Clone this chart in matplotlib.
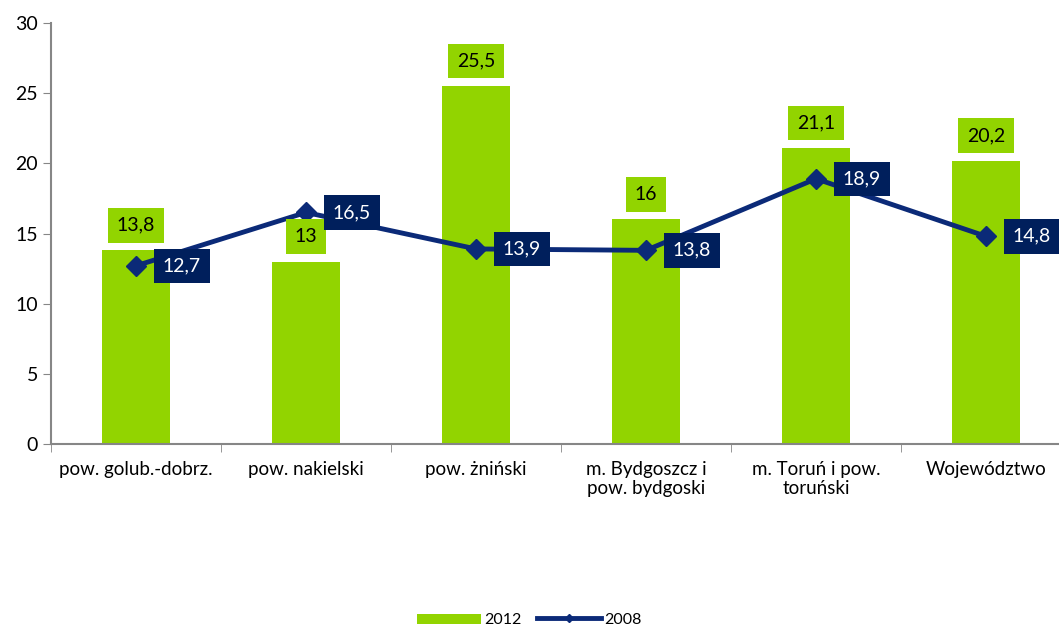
import numpy as np
import matplotlib.pyplot as plt

# data
categories = ['pow. golub.-dobrz.', 'pow. nakielski', 'pow. żniński',
              'm. Bydgoszcz i\npow. bydgoski', 'm. Toruń i pow.\ntoruński', 'Województwo']
val_2012 = [13.8, 13.0, 25.5, 16.0, 21.1, 20.2]
val_2008 = [12.7, 16.5, 13.9, 13.8, 18.9, 14.8]

green = '#92d400'
navy = '#0b2a78'
box_navy = '#001f5c'

plt.rcParams['font.family'] = ['Lato', 'DejaVu Sans']

fig = plt.figure(figsize=(10.59, 6.3), dpi=100)
ax = fig.add_axes([51/1059, 1 - 444/630, 1020/1059, 421/630])

x = np.arange(len(categories))
bars = ax.bar(x, val_2012, width=0.4, color=green, label='2012', zorder=2)
ax.plot(x, val_2008, color=navy, lw=3.5, marker='D', ms=10, label='2008', zorder=3)

def fmt(v):
    s = f'{v:.1f}'.replace('.', ',')
    return s[:-2] if s.endswith(',0') else s

for xi, v in zip(x, val_2012):
    ax.annotate(fmt(v), (xi, v), xytext=(0, 18), textcoords='offset points',
                ha='center', va='center', fontsize=14, color='black', zorder=5,
                bbox=dict(boxstyle='square,pad=0.45', fc=green, ec='none'))
for xi, v in zip(x, val_2008):
    ax.annotate(fmt(v), (xi, v), xytext=(33, 0), textcoords='offset points',
                ha='center', va='center', fontsize=14, color='white', zorder=6,
                bbox=dict(boxstyle='square,pad=0.45', fc=box_navy, ec='none'))

ax.set_xlim(-0.5, len(categories) - 0.5)
ax.set_ylim(0, 30)
ax.set_yticks(range(0, 31, 5))
ax.set_xticks(x)
ax.set_xticklabels(categories, fontsize=13.5)
ax.set_xticks(np.arange(-0.5, len(categories), 1), minor=True)
ax.tick_params(axis='x', which='major', length=0, pad=12)
ax.tick_params(axis='x', which='minor', length=6, color='#868686')
ax.tick_params(axis='y', length=6, color='#868686', labelsize=14)
for s in ['top', 'right']:
    ax.spines[s].set_visible(False)
for s in ['left', 'bottom']:
    ax.spines[s].set_color('#868686')
    ax.spines[s].set_linewidth(1.5)

fig.legend(handles=[bars, ax.lines[0]], labels=['2012', '2008'], loc='center',
           bbox_to_anchor=(0.5, 1 - 620/630), ncol=2, frameon=False, fontsize=11.5,
           handlelength=4.0, columnspacing=1.0, handletextpad=0.2)
leg = fig.legends[0]
leg.legend_handles[1].set_markersize(4)
leg.legend_handles[0].set_height(7)

fig.savefig('out.png', dpi=100)
